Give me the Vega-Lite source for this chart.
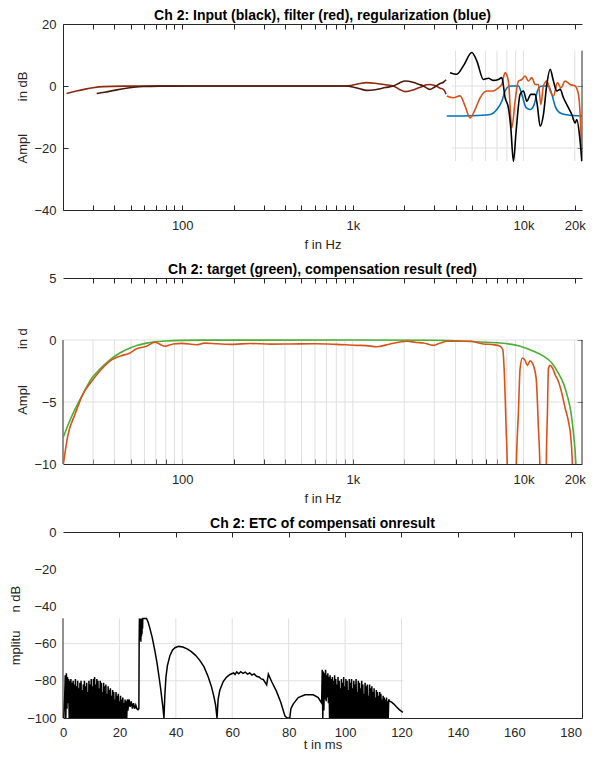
{
  "$schema": "https://vega.github.io/schema/vega-lite/v6.json",
  "padding": {"left": 9, "top": 9, "right": 5, "bottom": 0},
  "spacing": 68,
  "bounds": "flush",
  "config": {
    "view": {"stroke": null},
    "axis": {"labelFont": "Liberation Sans", "labelFontSize": 13, "labelColor": "#262626", "titleFont": "Liberation Sans", "titleFontSize": 13, "titleFontWeight": "normal", "titleColor": "#262626", "domainColor": "#262626", "tickColor": "#262626", "domainWidth": 1, "tickWidth": 1, "grid": false, "labelFlush": false, "labelOverlap": false, "tickSize": -5, "labelPadding": 12},
    "title": {"font": "Liberation Sans", "fontSize": 14, "fontWeight": "bold", "color": "#000000", "offset": -5, "anchor": "middle"}
  },
  "datasets": {
    "seg1": [
      {"x1": 4000, "x2": 4000, "y1": 11.4, "y2": -24.2, "k": "grid"},
      {"x1": 5000, "x2": 5000, "y1": 11.4, "y2": -24.2, "k": "grid"},
      {"x1": 6000, "x2": 6000, "y1": 11.4, "y2": -24.2, "k": "grid"},
      {"x1": 7000, "x2": 7000, "y1": 11.4, "y2": -24.2, "k": "grid"},
      {"x1": 8000, "x2": 8000, "y1": 11.4, "y2": -24.2, "k": "grid"},
      {"x1": 9000, "x2": 9000, "y1": 11.4, "y2": -24.2, "k": "grid"},
      {"x1": 10000, "x2": 10000, "y1": 11.4, "y2": -24.2, "k": "grid"},
      {"x1": 20000, "x2": 20000, "y1": 11.4, "y2": -24.2, "k": "grid"},
      {"x1": 3800, "x2": 22050, "y1": 0, "y2": 0, "k": "grid"},
      {"x1": 3800, "x2": 22050, "y1": -20, "y2": -20, "k": "grid"},
      {"x1": 22050, "x2": 22050, "y1": 11.4, "y2": -24.2, "k": "frame"}
    ],
    "seg2": [
      {"x1": 30, "x2": 30, "y1": 0, "y2": -10, "k": "grid"},
      {"x1": 40, "x2": 40, "y1": 0, "y2": -10, "k": "grid"},
      {"x1": 50, "x2": 50, "y1": 0, "y2": -10, "k": "grid"},
      {"x1": 60, "x2": 60, "y1": 0, "y2": -10, "k": "grid"},
      {"x1": 70, "x2": 70, "y1": 0, "y2": -10, "k": "grid"},
      {"x1": 80, "x2": 80, "y1": 0, "y2": -10, "k": "grid"},
      {"x1": 90, "x2": 90, "y1": 0, "y2": -10, "k": "grid"},
      {"x1": 100, "x2": 100, "y1": 0, "y2": -10, "k": "grid"},
      {"x1": 200, "x2": 200, "y1": 0, "y2": -10, "k": "grid"},
      {"x1": 300, "x2": 300, "y1": 0, "y2": -10, "k": "grid"},
      {"x1": 400, "x2": 400, "y1": 0, "y2": -10, "k": "grid"},
      {"x1": 500, "x2": 500, "y1": 0, "y2": -10, "k": "grid"},
      {"x1": 600, "x2": 600, "y1": 0, "y2": -10, "k": "grid"},
      {"x1": 700, "x2": 700, "y1": 0, "y2": -10, "k": "grid"},
      {"x1": 800, "x2": 800, "y1": 0, "y2": -10, "k": "grid"},
      {"x1": 900, "x2": 900, "y1": 0, "y2": -10, "k": "grid"},
      {"x1": 1000, "x2": 1000, "y1": 0, "y2": -10, "k": "grid"},
      {"x1": 2000, "x2": 2000, "y1": 0, "y2": -10, "k": "grid"},
      {"x1": 3000, "x2": 3000, "y1": 0, "y2": -10, "k": "grid"},
      {"x1": 4000, "x2": 4000, "y1": 0, "y2": -10, "k": "grid"},
      {"x1": 5000, "x2": 5000, "y1": 0, "y2": -10, "k": "grid"},
      {"x1": 6000, "x2": 6000, "y1": 0, "y2": -10, "k": "grid"},
      {"x1": 7000, "x2": 7000, "y1": 0, "y2": -10, "k": "grid"},
      {"x1": 8000, "x2": 8000, "y1": 0, "y2": -10, "k": "grid"},
      {"x1": 9000, "x2": 9000, "y1": 0, "y2": -10, "k": "grid"},
      {"x1": 10000, "x2": 10000, "y1": 0, "y2": -10, "k": "grid"},
      {"x1": 20000, "x2": 20000, "y1": 0, "y2": -10, "k": "grid"},
      {"x1": 20, "x2": 22050, "y1": 0, "y2": 0, "k": "grid"},
      {"x1": 20, "x2": 22050, "y1": -5, "y2": -5, "k": "grid"},
      {"x1": 20, "x2": 20, "y1": 0, "y2": -10, "k": "frame"},
      {"x1": 22050, "x2": 22050, "y1": 0, "y2": -10, "k": "frame"}
    ],
    "seg3": [
      {"x1": 20, "x2": 20, "y1": -46.4, "y2": -100, "k": "grid"},
      {"x1": 40, "x2": 40, "y1": -46.4, "y2": -100, "k": "grid"},
      {"x1": 60, "x2": 60, "y1": -46.4, "y2": -100, "k": "grid"},
      {"x1": 80, "x2": 80, "y1": -46.4, "y2": -100, "k": "grid"},
      {"x1": 100, "x2": 100, "y1": -46.4, "y2": -100, "k": "grid"},
      {"x1": 120, "x2": 120, "y1": -46.4, "y2": -100, "k": "grid"},
      {"x1": 0, "x2": 120.6, "y1": -60, "y2": -60, "k": "grid"},
      {"x1": 0, "x2": 120.6, "y1": -80, "y2": -80, "k": "grid"},
      {"x1": 0, "x2": 0, "y1": -46.4, "y2": -100, "k": "frame"}
    ],
    "p1": [
      {"s": "red_lo", "f": 21, "v": -2.4}, {"s": "red_lo", "f": 24, "v": -1.6}, {"s": "red_lo", "f": 27, "v": -1.0}, {"s": "red_lo", "f": 30, "v": -0.55}, {"s": "red_lo", "f": 34.4, "v": -0.2}, {"s": "red_lo", "f": 45, "v": -0.05}, {"s": "red_lo", "f": 80, "v": 0}, {"s": "red_lo", "f": 400, "v": 0}, {"s": "red_lo", "f": 900, "v": 0}, {"s": "red_lo", "f": 1000, "v": 0.3}, {"s": "red_lo", "f": 1100, "v": 0.8}, {"s": "red_lo", "f": 1206, "v": 1.1}, {"s": "red_lo", "f": 1350, "v": 0.9}, {"s": "red_lo", "f": 1550, "v": 0.4}, {"s": "red_lo", "f": 1728, "v": 0}, {"s": "red_lo", "f": 1880, "v": -1.1}, {"s": "red_lo", "f": 2025, "v": -1.8}, {"s": "red_lo", "f": 2250, "v": -1.3}, {"s": "red_lo", "f": 2450, "v": -0.5}, {"s": "red_lo", "f": 2591, "v": 0}, {"s": "red_lo", "f": 2700, "v": 0.4}, {"s": "red_lo", "f": 2836, "v": 0.5}, {"s": "red_lo", "f": 2960, "v": 0.3}, {"s": "red_lo", "f": 3076, "v": 0}, {"s": "red_lo", "f": 3250, "v": -0.7}, {"s": "red_lo", "f": 3395, "v": -1.1}, {"s": "red_lo", "f": 3520, "v": -2.6},
      {"s": "black_lo", "f": 31.5, "v": -2.4}, {"s": "black_lo", "f": 35, "v": -2.0}, {"s": "black_lo", "f": 40, "v": -1.4}, {"s": "black_lo", "f": 46, "v": -0.8}, {"s": "black_lo", "f": 52, "v": -0.4}, {"s": "black_lo", "f": 59, "v": -0.15}, {"s": "black_lo", "f": 75, "v": -0.05}, {"s": "black_lo", "f": 120, "v": 0}, {"s": "black_lo", "f": 400, "v": 0}, {"s": "black_lo", "f": 900, "v": 0}, {"s": "black_lo", "f": 1000, "v": -0.3}, {"s": "black_lo", "f": 1100, "v": -0.9}, {"s": "black_lo", "f": 1206, "v": -1.4}, {"s": "black_lo", "f": 1350, "v": -1.2}, {"s": "black_lo", "f": 1550, "v": -0.5}, {"s": "black_lo", "f": 1728, "v": 0}, {"s": "black_lo", "f": 1880, "v": 1.0}, {"s": "black_lo", "f": 2025, "v": 1.6}, {"s": "black_lo", "f": 2250, "v": 1.2}, {"s": "black_lo", "f": 2450, "v": 0.5}, {"s": "black_lo", "f": 2591, "v": 0}, {"s": "black_lo", "f": 2700, "v": -0.6}, {"s": "black_lo", "f": 2836, "v": -1.1}, {"s": "black_lo", "f": 2960, "v": -0.6}, {"s": "black_lo", "f": 3076, "v": 0}, {"s": "black_lo", "f": 3250, "v": 0.8}, {"s": "black_lo", "f": 3395, "v": 1.2}, {"s": "black_lo", "f": 3520, "v": 2.0},
      {"s": "blue", "f": 3554, "v": -9.7}, {"s": "blue", "f": 5000, "v": -9.6}, {"s": "blue", "f": 6379, "v": -9.2}, {"s": "blue", "f": 6982, "v": -7.6}, {"s": "blue", "f": 7470, "v": -4.9}, {"s": "blue", "f": 7812, "v": -1.6}, {"s": "blue", "f": 8166, "v": -0.2}, {"s": "blue", "f": 8500, "v": 0}, {"s": "blue", "f": 9349, "v": 0}, {"s": "blue", "f": 9786, "v": -2.7}, {"s": "blue", "f": 10370, "v": -7}, {"s": "blue", "f": 10947, "v": -7.6}, {"s": "blue", "f": 11556, "v": -6}, {"s": "blue", "f": 12082, "v": -1.6}, {"s": "blue", "f": 12530, "v": -0.2}, {"s": "blue", "f": 13000, "v": 0}, {"s": "blue", "f": 14016, "v": 0}, {"s": "blue", "f": 14676, "v": -2.7}, {"s": "blue", "f": 15345, "v": -6.5}, {"s": "blue", "f": 16420, "v": -8.7}, {"s": "blue", "f": 17970, "v": -9.3}, {"s": "blue", "f": 22005, "v": -9.7},
      {"s": "red", "f": 3554, "v": -3.2}, {"s": "red", "f": 3886, "v": -3.8}, {"s": "red", "f": 4255, "v": -3.2}, {"s": "red", "f": 4552, "v": -6.5}, {"s": "red", "f": 4869, "v": -10.3}, {"s": "red", "f": 5209, "v": -7.6}, {"s": "red", "f": 5572, "v": -3.8}, {"s": "red", "f": 6101, "v": -1.6}, {"s": "red", "f": 6668, "v": -1.6}, {"s": "red", "f": 7135, "v": -0.6}, {"s": "red", "f": 7470, "v": 0.5}, {"s": "red", "f": 7812, "v": 4.3}, {"s": "red", "f": 8166, "v": 1.6}, {"s": "red", "f": 8551, "v": -13.5}, {"s": "red", "f": 8940, "v": -4.9}, {"s": "red", "f": 9349, "v": 1.6}, {"s": "red", "f": 9786, "v": 2.1}, {"s": "red", "f": 10233, "v": 3.2}, {"s": "red", "f": 10698, "v": 1.6}, {"s": "red", "f": 11203, "v": 2.7}, {"s": "red", "f": 11712, "v": 0.5}, {"s": "red", "f": 12246, "v": 0.5}, {"s": "red", "f": 12650, "v": -6}, {"s": "red", "f": 13100, "v": 0}, {"s": "red", "f": 13717, "v": 1.6}, {"s": "red", "f": 14342, "v": -1.6}, {"s": "red", "f": 14997, "v": -3.2}, {"s": "red", "f": 15829, "v": 1.1}, {"s": "red", "f": 16576, "v": -0.6}, {"s": "red", "f": 17565, "v": 1.6}, {"s": "red", "f": 18790, "v": 0.5}, {"s": "red", "f": 20100, "v": 0}, {"s": "red", "f": 21020, "v": -2.7}, {"s": "red", "f": 21508, "v": -9.2}, {"s": "red", "f": 22005, "v": -23},
      {"s": "black", "f": 3716, "v": 4.3}, {"s": "black", "f": 4069, "v": 3.8}, {"s": "black", "f": 4448, "v": 6.5}, {"s": "black", "f": 4983, "v": 10.8}, {"s": "black", "f": 5331, "v": 8.1}, {"s": "black", "f": 5827, "v": 2.1}, {"s": "black", "f": 6234, "v": 2.5}, {"s": "black", "f": 6668, "v": 1.8}, {"s": "black", "f": 7135, "v": 2.1}, {"s": "black", "f": 7470, "v": 2.7}, {"s": "black", "f": 7812, "v": -3.8}, {"s": "black", "f": 8166, "v": -7}, {"s": "black", "f": 8436, "v": -13.5}, {"s": "black", "f": 8737, "v": -24.3}, {"s": "black", "f": 9062, "v": -14.6}, {"s": "black", "f": 9563, "v": -2.7}, {"s": "black", "f": 10000, "v": -1.6}, {"s": "black", "f": 10469, "v": -4.9}, {"s": "black", "f": 11052, "v": -2.7}, {"s": "black", "f": 11712, "v": -2.7}, {"s": "black", "f": 12082, "v": -6.5}, {"s": "black", "f": 12530, "v": -13}, {"s": "black", "f": 13100, "v": -9.2}, {"s": "black", "f": 13717, "v": 0.5}, {"s": "black", "f": 14342, "v": 5.4}, {"s": "black", "f": 14997, "v": 1.6}, {"s": "black", "f": 15702, "v": -1.6}, {"s": "black", "f": 16420, "v": -1.1}, {"s": "black", "f": 17165, "v": -3.8}, {"s": "black", "f": 18364, "v": -7}, {"s": "black", "f": 19227, "v": -9.2}, {"s": "black", "f": 20100, "v": -11.9}, {"s": "black", "f": 20570, "v": -10.8}, {"s": "black", "f": 21303, "v": -15.7}, {"s": "black", "f": 22005, "v": -24.3}
    ],
    "p2": [
      {"s": "green", "f": 20, "v": -7.9}, {"s": "green", "f": 21.4, "v": -6.85}, {"s": "green", "f": 23.5, "v": -5.6}, {"s": "green", "f": 26.3, "v": -4.3}, {"s": "green", "f": 29.4, "v": -3.1}, {"s": "green", "f": 32.9, "v": -2.35}, {"s": "green", "f": 37.7, "v": -1.6}, {"s": "green", "f": 43.1, "v": -1.05}, {"s": "green", "f": 49.4, "v": -0.65}, {"s": "green", "f": 54, "v": -0.45}, {"s": "green", "f": 61.8, "v": -0.25}, {"s": "green", "f": 69.2, "v": -0.15}, {"s": "green", "f": 79.2, "v": -0.08}, {"s": "green", "f": 99.2, "v": -0.03}, {"s": "green", "f": 150, "v": -0.01}, {"s": "green", "f": 1000, "v": 0}, {"s": "green", "f": 3000, "v": -0.02}, {"s": "green", "f": 5572, "v": -0.16}, {"s": "green", "f": 7300, "v": -0.24}, {"s": "green", "f": 9571, "v": -0.5}, {"s": "green", "f": 11450, "v": -0.9}, {"s": "green", "f": 13100, "v": -1.3}, {"s": "green", "f": 14676, "v": -1.86}, {"s": "green", "f": 16046, "v": -2.7}, {"s": "green", "f": 17165, "v": -3.5}, {"s": "green", "f": 18119, "v": -4.55}, {"s": "green", "f": 18970, "v": -5.8}, {"s": "green", "f": 19650, "v": -7.5}, {"s": "green", "f": 20290, "v": -9.9}, {"s": "green", "f": 20400, "v": -10.6},
      {"s": "red", "f": 20, "v": -10.2}, {"s": "red", "f": 21.4, "v": -7.65}, {"s": "red", "f": 23.5, "v": -6.0}, {"s": "red", "f": 26.3, "v": -4.3}, {"s": "red", "f": 29.4, "v": -3.35}, {"s": "red", "f": 32.9, "v": -2.5}, {"s": "red", "f": 37.7, "v": -1.7}, {"s": "red", "f": 43.1, "v": -1.3}, {"s": "red", "f": 49.4, "v": -1.05}, {"s": "red", "f": 54, "v": -0.7}, {"s": "red", "f": 61.8, "v": -0.5}, {"s": "red", "f": 69.2, "v": -0.18}, {"s": "red", "f": 79.2, "v": -0.5}, {"s": "red", "f": 88.6, "v": -0.32}, {"s": "red", "f": 99.2, "v": -0.27}, {"s": "red", "f": 121.5, "v": -0.38}, {"s": "red", "f": 135, "v": -0.25}, {"s": "red", "f": 160, "v": -0.3}, {"s": "red", "f": 200, "v": -0.35}, {"s": "red", "f": 250, "v": -0.28}, {"s": "red", "f": 330, "v": -0.33}, {"s": "red", "f": 429, "v": -0.32}, {"s": "red", "f": 600, "v": -0.3}, {"s": "red", "f": 800, "v": -0.35}, {"s": "red", "f": 1054, "v": -0.43}, {"s": "red", "f": 1200, "v": -0.45}, {"s": "red", "f": 1381, "v": -0.54}, {"s": "red", "f": 1653, "v": -0.32}, {"s": "red", "f": 2071, "v": -0.1}, {"s": "red", "f": 2350, "v": -0.2}, {"s": "red", "f": 2591, "v": -0.24}, {"s": "red", "f": 2966, "v": -0.43}, {"s": "red", "f": 3250, "v": -0.25}, {"s": "red", "f": 3554, "v": -0.1}, {"s": "red", "f": 4869, "v": -0.1}, {"s": "red", "f": 5827, "v": -0.32}, {"s": "red", "f": 6668, "v": -0.38}, {"s": "red", "f": 7300, "v": -0.5}, {"s": "red", "f": 7572, "v": -0.78}, {"s": "red", "f": 7706, "v": -2.3}, {"s": "red", "f": 7917, "v": -7.1}, {"s": "red", "f": 8057, "v": -11}, {"s": "red", "f": 8300, "v": -40}, {"s": "red", "f": 8800, "v": -40}, {"s": "red", "f": 9062, "v": -11}, {"s": "red", "f": 9349, "v": -5.8}, {"s": "red", "f": 9563, "v": -2.3}, {"s": "red", "f": 9865, "v": -1.45}, {"s": "red", "f": 10190, "v": -1.6}, {"s": "red", "f": 10555, "v": -2.05}, {"s": "red", "f": 10947, "v": -1.67}, {"s": "red", "f": 11354, "v": -1.94}, {"s": "red", "f": 11872, "v": -3.07}, {"s": "red", "f": 12246, "v": -7.1}, {"s": "red", "f": 12530, "v": -11}, {"s": "red", "f": 12800, "v": -40}, {"s": "red", "f": 13300, "v": -40}, {"s": "red", "f": 13590, "v": -11}, {"s": "red", "f": 13830, "v": -5.8}, {"s": "red", "f": 14016, "v": -2.3}, {"s": "red", "f": 14342, "v": -2.05}, {"s": "red", "f": 14874, "v": -2.3}, {"s": "red", "f": 15345, "v": -2.8}, {"s": "red", "f": 16046, "v": -3.34}, {"s": "red", "f": 16799, "v": -4.3}, {"s": "red", "f": 17565, "v": -5.5}, {"s": "red", "f": 18364, "v": -6.57}, {"s": "red", "f": 18970, "v": -7.9}, {"s": "red", "f": 19386, "v": -10.3}, {"s": "red", "f": 19600, "v": -14}
    ],
    "p3": [
      {"t": 0.0, "v": -100}, {"t": 0.3, "v": -100}, {"t": 0.6, "v": -88}, {"t": 0.8, "v": -77}, {"t": 1.0, "v": -100}, {"t": 1.2, "v": -76}, {"t": 1.4, "v": -95}, {"t": 1.6, "v": -78}, {"t": 1.8, "v": -92}, {"t": 2.0, "v": -79}, {"t": 2.2, "v": -100}, {"t": 2.4, "v": -80}, {"t": 2.6, "v": -100}, {"t": 2.8, "v": -79}, {"t": 3.0, "v": -100}, {"t": 3.2, "v": -81}, {"t": 3.4, "v": -100}, {"t": 3.6, "v": -80}, {"t": 3.8, "v": -100}, {"t": 4.0, "v": -82}, {"t": 4.2, "v": -100}, {"t": 4.4, "v": -79}, {"t": 4.6, "v": -100}, {"t": 4.8, "v": -83}, {"t": 5.0, "v": -100}, {"t": 5.2, "v": -80}, {"t": 5.4, "v": -100}, {"t": 5.6, "v": -84}, {"t": 5.8, "v": -100}, {"t": 6.0, "v": -81}, {"t": 6.2, "v": -100}, {"t": 6.4, "v": -80}, {"t": 6.6, "v": -100}, {"t": 6.8, "v": -85}, {"t": 7.0, "v": -100}, {"t": 7.2, "v": -82}, {"t": 7.4, "v": -100}, {"t": 7.6, "v": -80}, {"t": 7.8, "v": -100}, {"t": 8.0, "v": -83}, {"t": 8.2, "v": -100}, {"t": 8.4, "v": -81}, {"t": 8.6, "v": -100}, {"t": 8.8, "v": -86}, {"t": 9.0, "v": -100}, {"t": 9.2, "v": -80}, {"t": 9.4, "v": -100}, {"t": 9.6, "v": -82}, {"t": 9.8, "v": -100}, {"t": 10.0, "v": -79}, {"t": 10.2, "v": -100}, {"t": 10.4, "v": -83}, {"t": 10.6, "v": -100}, {"t": 10.8, "v": -79}, {"t": 11.0, "v": -100}, {"t": 11.2, "v": -78}, {"t": 11.4, "v": -100}, {"t": 11.6, "v": -82}, {"t": 11.8, "v": -100}, {"t": 12.0, "v": -79}, {"t": 12.2, "v": -100}, {"t": 12.4, "v": -80}, {"t": 12.6, "v": -100}, {"t": 12.8, "v": -84}, {"t": 13.0, "v": -100}, {"t": 13.2, "v": -80}, {"t": 13.4, "v": -100}, {"t": 13.6, "v": -81}, {"t": 13.8, "v": -100}, {"t": 14.0, "v": -86}, {"t": 14.2, "v": -100}, {"t": 14.4, "v": -81}, {"t": 14.6, "v": -100}, {"t": 14.8, "v": -83}, {"t": 15.0, "v": -100}, {"t": 15.2, "v": -82}, {"t": 15.4, "v": -100}, {"t": 15.6, "v": -87}, {"t": 15.8, "v": -100}, {"t": 16.0, "v": -83}, {"t": 16.2, "v": -100}, {"t": 16.4, "v": -85}, {"t": 16.6, "v": -100}, {"t": 16.8, "v": -84}, {"t": 17.0, "v": -100}, {"t": 17.2, "v": -88}, {"t": 17.4, "v": -100}, {"t": 17.6, "v": -85}, {"t": 17.8, "v": -100}, {"t": 18.0, "v": -86}, {"t": 18.2, "v": -100}, {"t": 18.4, "v": -90}, {"t": 18.6, "v": -100}, {"t": 18.8, "v": -86}, {"t": 19.0, "v": -100}, {"t": 19.2, "v": -88}, {"t": 19.4, "v": -100}, {"t": 19.6, "v": -87}, {"t": 19.8, "v": -100}, {"t": 20.0, "v": -91}, {"t": 20.2, "v": -100}, {"t": 20.4, "v": -88}, {"t": 20.6, "v": -100}, {"t": 20.8, "v": -90}, {"t": 21.0, "v": -100}, {"t": 21.2, "v": -89}, {"t": 21.4, "v": -100}, {"t": 21.6, "v": -92}, {"t": 21.8, "v": -100}, {"t": 22.0, "v": -90}, {"t": 22.2, "v": -100}, {"t": 22.4, "v": -91}, {"t": 22.6, "v": -100}, {"t": 22.8, "v": -90}, {"t": 23.0, "v": -96}, {"t": 23.4, "v": -90}, {"t": 23.8, "v": -94}, {"t": 24.2, "v": -91}, {"t": 24.6, "v": -95}, {"t": 25.0, "v": -92}, {"t": 25.4, "v": -95}, {"t": 25.8, "v": -93}, {"t": 26.2, "v": -95}, {"t": 26.6, "v": -95.5}, {"t": 26.9, "v": -95},
      {"t": 27.0, "v": -58}, {"t": 27.1, "v": -46.5}, {"t": 27.2, "v": -58}, {"t": 27.3, "v": -46.5}, {"t": 27.4, "v": -57}, {"t": 27.5, "v": -46.5}, {"t": 27.6, "v": -59}, {"t": 27.7, "v": -46.5}, {"t": 27.8, "v": -56}, {"t": 27.9, "v": -46.5}, {"t": 28.0, "v": -55}, {"t": 28.1, "v": -46.5}, {"t": 28.2, "v": -52}, {"t": 28.3, "v": -46.5}, {"t": 29.6, "v": -46.5}, {"t": 30.2, "v": -48.5}, {"t": 30.8, "v": -51.8}, {"t": 31.6, "v": -56.5}, {"t": 32.6, "v": -64}, {"t": 33.4, "v": -71}, {"t": 34.1, "v": -78.5}, {"t": 34.6, "v": -84}, {"t": 35.0, "v": -89}, {"t": 35.4, "v": -94}, {"t": 35.8, "v": -100},
      {"t": 36.1, "v": -88}, {"t": 36.5, "v": -78}, {"t": 37.0, "v": -72}, {"t": 37.9, "v": -66.5}, {"t": 38.8, "v": -63.5}, {"t": 39.7, "v": -62.2}, {"t": 41.0, "v": -61.5}, {"t": 42.5, "v": -61.8}, {"t": 44.0, "v": -62.8}, {"t": 45.5, "v": -64.3}, {"t": 47.0, "v": -66.3}, {"t": 48.5, "v": -69}, {"t": 50.0, "v": -72.5}, {"t": 51.4, "v": -77.5}, {"t": 52.6, "v": -83}, {"t": 53.5, "v": -88.5}, {"t": 54.1, "v": -93}, {"t": 54.6, "v": -100},
      {"t": 55.0, "v": -90}, {"t": 55.6, "v": -85}, {"t": 56.8, "v": -80.4}, {"t": 58.0, "v": -78}, {"t": 59.2, "v": -76.6}, {"t": 60.5, "v": -75.8}, {"t": 61.0, "v": -76.6}, {"t": 61.6, "v": -75.2}, {"t": 62.3, "v": -76.2}, {"t": 63.0, "v": -75.1}, {"t": 63.8, "v": -76.0}, {"t": 64.6, "v": -75.3}, {"t": 65.4, "v": -76.4}, {"t": 66.2, "v": -75.8}, {"t": 67.0, "v": -76.9}, {"t": 67.8, "v": -76.3}, {"t": 68.6, "v": -77.6}, {"t": 69.5, "v": -77.9}, {"t": 70.3, "v": -79.0}, {"t": 71.0, "v": -79.3}, {"t": 71.7, "v": -81.0}, {"t": 72.2, "v": -82.2}, {"t": 72.8, "v": -76.4}, {"t": 74.0, "v": -80.5}, {"t": 75.7, "v": -85.7}, {"t": 77.2, "v": -91.5}, {"t": 78.7, "v": -99}, {"t": 79.5, "v": -100}, {"t": 80.4, "v": -100},
      {"t": 80.8, "v": -95}, {"t": 81.6, "v": -92.5}, {"t": 83.4, "v": -89}, {"t": 85.8, "v": -87.5}, {"t": 88.7, "v": -87.5}, {"t": 90.5, "v": -89}, {"t": 91.7, "v": -92},
      {"t": 91.9, "v": -74}, {"t": 92.1, "v": -100}, {"t": 92.3, "v": -75}, {"t": 92.5, "v": -96}, {"t": 92.7, "v": -76}, {"t": 92.9, "v": -90}, {"t": 93.1, "v": -74}, {"t": 93.3, "v": -91}, {"t": 93.5, "v": -77}, {"t": 93.7, "v": -89}, {"t": 93.9, "v": -76}, {"t": 94.1, "v": -92}, {"t": 94.3, "v": -78}, {"t": 94.5, "v": -100}, {"t": 94.7, "v": -77}, {"t": 94.9, "v": -100}, {"t": 95.1, "v": -79}, {"t": 95.3, "v": -100}, {"t": 95.5, "v": -78}, {"t": 95.7, "v": -100}, {"t": 95.9, "v": -80}, {"t": 96.1, "v": -100}, {"t": 96.3, "v": -77}, {"t": 96.5, "v": -100}, {"t": 96.7, "v": -79}, {"t": 96.9, "v": -100}, {"t": 97.1, "v": -82}, {"t": 97.3, "v": -100}, {"t": 97.5, "v": -78}, {"t": 97.7, "v": -100}, {"t": 97.9, "v": -80}, {"t": 98.1, "v": -100}, {"t": 98.3, "v": -84}, {"t": 98.5, "v": -100}, {"t": 98.7, "v": -79}, {"t": 98.9, "v": -100}, {"t": 99.1, "v": -81}, {"t": 99.3, "v": -100}, {"t": 99.5, "v": -78}, {"t": 99.7, "v": -100}, {"t": 99.9, "v": -83}, {"t": 100.1, "v": -100}, {"t": 100.3, "v": -79}, {"t": 100.5, "v": -100}, {"t": 100.7, "v": -80}, {"t": 100.9, "v": -100}, {"t": 101.1, "v": -85}, {"t": 101.3, "v": -100}, {"t": 101.5, "v": -79}, {"t": 101.7, "v": -100}, {"t": 101.9, "v": -81}, {"t": 102.1, "v": -100}, {"t": 102.3, "v": -79}, {"t": 102.5, "v": -100}, {"t": 102.7, "v": -84}, {"t": 102.9, "v": -100}, {"t": 103.1, "v": -80}, {"t": 103.3, "v": -100}, {"t": 103.5, "v": -82}, {"t": 103.7, "v": -100}, {"t": 103.9, "v": -79}, {"t": 104.1, "v": -100}, {"t": 104.3, "v": -86}, {"t": 104.5, "v": -100}, {"t": 104.7, "v": -80}, {"t": 104.9, "v": -100}, {"t": 105.1, "v": -81}, {"t": 105.3, "v": -100}, {"t": 105.5, "v": -84}, {"t": 105.7, "v": -100}, {"t": 105.9, "v": -80}, {"t": 106.1, "v": -100}, {"t": 106.3, "v": -82}, {"t": 106.5, "v": -100}, {"t": 106.7, "v": -87}, {"t": 106.9, "v": -100}, {"t": 107.1, "v": -81}, {"t": 107.3, "v": -100}, {"t": 107.5, "v": -83}, {"t": 107.7, "v": -100}, {"t": 107.9, "v": -82}, {"t": 108.1, "v": -100}, {"t": 108.3, "v": -88}, {"t": 108.5, "v": -100}, {"t": 108.7, "v": -82}, {"t": 108.9, "v": -100}, {"t": 109.1, "v": -84}, {"t": 109.3, "v": -100}, {"t": 109.5, "v": -83}, {"t": 109.7, "v": -100}, {"t": 109.9, "v": -86}, {"t": 110.1, "v": -100}, {"t": 110.3, "v": -84}, {"t": 110.5, "v": -100}, {"t": 110.7, "v": -89}, {"t": 110.9, "v": -100}, {"t": 111.1, "v": -85}, {"t": 111.3, "v": -100}, {"t": 111.5, "v": -86}, {"t": 111.7, "v": -100}, {"t": 111.9, "v": -88}, {"t": 112.1, "v": -100}, {"t": 112.3, "v": -86}, {"t": 112.5, "v": -100}, {"t": 112.7, "v": -87}, {"t": 112.9, "v": -100}, {"t": 113.1, "v": -90}, {"t": 113.3, "v": -100}, {"t": 113.5, "v": -88}, {"t": 113.7, "v": -100}, {"t": 113.9, "v": -89}, {"t": 114.1, "v": -100}, {"t": 114.3, "v": -90}, {"t": 114.5, "v": -100}, {"t": 114.7, "v": -89}, {"t": 114.9, "v": -100}, {"t": 115.1, "v": -91}, {"t": 115.3, "v": -100}, {"t": 115.5, "v": -90}, {"t": 115.8, "v": -91}, {"t": 116.5, "v": -91.5}, {"t": 117.3, "v": -92.5}, {"t": 118.2, "v": -94}, {"t": 119.2, "v": -95.5}, {"t": 120.5, "v": -97}
    ]
  },
  "vconcat": [
    {
      "width": 519, "height": 186,
      "title": {"text": "Ch 2: Input (black), filter (red), regularization (blue)"},
      "resolve": {"axis": {"x": "independent", "y": "independent"}, "scale": {"color": "independent"}},
      "layer": [
        {
          "data": {"name": "seg1"},
          "mark": {"type": "rule", "strokeWidth": 1},
          "encoding": {
            "x": {"field": "x1", "type": "quantitative", "scale": {"type": "log", "domain": [20, 22050], "nice": false}, "axis": {"orient": "bottom", "title": "f in Hz", "titlePadding": 6, "labelPadding": 14, "values": [30, 40, 50, 60, 70, 80, 90, 100, 200, 300, 400, 500, 600, 700, 800, 900, 1000, 2000, 3000, 4000, 5000, 6000, 7000, 8000, 9000, 10000, 20000], "labelExpr": "datum.value == 100 ? '100' : datum.value == 1000 ? '1k' : datum.value == 10000 ? '10k' : datum.value == 20000 ? '20k' : ''"}},
            "x2": {"field": "x2"},
            "y": {"field": "y1", "type": "quantitative", "scale": {"domain": [-40, 20], "nice": false, "zero": false}, "axis": {"orient": "left", "values": [20, 0, -20, -40], "title": "Ampl\u00a0\u00a0\u00a0\u00a0\u00a0\u00a0\u00a0\u00a0\u00a0in dB\u00a0\u00a0\u00a0"}},
            "y2": {"field": "y2"},
            "color": {"field": "k", "type": "nominal", "scale": {"domain": ["grid", "frame"], "range": ["#E0E0E0", "#262626"]}, "legend": null}
          }
        },
        {
          "data": {"name": "p1"},
          "mark": {"type": "line", "strokeWidth": 1.6, "interpolate": "monotone", "clip": true},
          "encoding": {
            "x": {"field": "f", "type": "quantitative", "scale": {"type": "log", "domain": [20, 22050], "nice": false}, "axis": {"orient": "top", "labels": false, "title": null, "values": [30, 40, 50, 60, 70, 80, 90, 100, 200, 300, 400, 500, 600, 700, 800, 900, 1000, 2000, 3000, 4000, 5000, 6000, 7000, 8000, 9000, 10000, 20000]}},
            "y": {"field": "v", "type": "quantitative", "scale": {"domain": [-40, 20], "nice": false, "zero": false}, "axis": {"orient": "right", "labels": false, "domain": false, "title": null, "values": [0, -20]}},
            "color": {"field": "s", "type": "nominal", "scale": {"domain": ["red_lo", "black_lo", "blue", "red", "black"], "range": ["#8C2A12", "#4A1A0C", "#0072BD", "#D95319", "#000000"]}, "legend": null}
          }
        }
      ]
    },
    {
      "width": 519, "height": 186,
      "title": {"text": "Ch 2: target (green), compensation result (red)"},
      "resolve": {"axis": {"x": "independent", "y": "independent"}, "scale": {"color": "independent"}},
      "layer": [
        {
          "data": {"name": "seg2"},
          "mark": {"type": "rule", "strokeWidth": 1},
          "encoding": {
            "x": {"field": "x1", "type": "quantitative", "scale": {"type": "log", "domain": [20, 22050], "nice": false}, "axis": {"orient": "bottom", "title": "f in Hz", "titlePadding": 6, "labelPadding": 14, "values": [30, 40, 50, 60, 70, 80, 90, 100, 200, 300, 400, 500, 600, 700, 800, 900, 1000, 2000, 3000, 4000, 5000, 6000, 7000, 8000, 9000, 10000, 20000], "labelExpr": "datum.value == 100 ? '100' : datum.value == 1000 ? '1k' : datum.value == 10000 ? '10k' : datum.value == 20000 ? '20k' : ''"}},
            "x2": {"field": "x2"},
            "y": {"field": "y1", "type": "quantitative", "scale": {"domain": [-10, 5], "nice": false, "zero": false}, "axis": {"orient": "left", "values": [5, 0, -5, -10], "domain": false, "ticks": false, "labelPadding": 7, "title": "Ampl\u00a0\u00a0\u00a0\u00a0\u00a0\u00a0\u00a0\u00a0\u00a0\u00a0in d\u00a0\u00a0\u00a0\u00a0"}},
            "y2": {"field": "y2"},
            "color": {"field": "k", "type": "nominal", "scale": {"domain": ["grid", "frame"], "range": ["#E0E0E0", "#262626"]}, "legend": null}
          }
        },
        {
          "data": {"name": "p2"},
          "mark": {"type": "line", "strokeWidth": 1.6, "interpolate": "monotone", "clip": true},
          "encoding": {
            "x": {"field": "f", "type": "quantitative", "scale": {"type": "log", "domain": [20, 22050], "nice": false}, "axis": {"orient": "top", "labels": false, "title": null, "values": [30, 40, 50, 60, 70, 80, 90, 100, 200, 300, 400, 500, 600, 700, 800, 900, 1000, 2000, 3000, 4000, 5000, 6000, 7000, 8000, 9000, 10000, 20000]}},
            "y": {"field": "v", "type": "quantitative", "scale": {"domain": [-10, 5], "nice": false, "zero": false}, "axis": {"orient": "right", "labels": false, "domain": false, "title": null, "values": [0, -5]}},
            "color": {"field": "s", "type": "nominal", "scale": {"domain": ["green", "red"], "range": ["#4BAE35", "#D95319"]}, "legend": null}
          }
        }
      ]
    },
    {
      "width": 519, "height": 186,
      "title": {"text": "Ch 2: ETC of compensati onresult"},
      "resolve": {"axis": {"x": "independent", "y": "independent"}, "scale": {"color": "independent"}},
      "layer": [
        {
          "data": {"name": "seg3"},
          "mark": {"type": "rule", "strokeWidth": 1},
          "encoding": {
            "x": {"field": "x1", "type": "quantitative", "scale": {"domain": [0, 184], "nice": false, "zero": false}, "axis": {"orient": "bottom", "title": "t in ms", "titlePadding": -1, "values": [0, 20, 40, 60, 80, 100, 120, 140, 160, 180], "ticks": false, "labelPadding": 8}},
            "x2": {"field": "x2"},
            "y": {"field": "y1", "type": "quantitative", "scale": {"domain": [-100, 0], "nice": false, "zero": false}, "axis": {"orient": "left", "values": [0, -20, -40, -60, -80, -100], "domain": false, "ticks": false, "labelPadding": 7, "title": "\u00a0mplitu\u00a0\u00a0\u00a0\u00a0\u00a0n dB"}},
            "y2": {"field": "y2"},
            "color": {"field": "k", "type": "nominal", "scale": {"domain": ["grid", "frame"], "range": ["#E0E0E0", "#262626"]}, "legend": null}
          }
        },
        {
          "data": {"name": "p3"},
          "mark": {"type": "line", "strokeWidth": 1.5, "color": "#000000", "clip": true},
          "encoding": {
            "x": {"field": "t", "type": "quantitative", "scale": {"domain": [0, 184], "nice": false, "zero": false}, "axis": {"orient": "top", "labels": false, "title": null, "values": [20, 40, 60, 80, 100, 120, 140, 160, 180]}},
            "y": {"field": "v", "type": "quantitative", "scale": {"domain": [-100, 0], "nice": false, "zero": false}, "axis": {"orient": "right", "labels": false, "ticks": false, "title": null}}
          }
        }
      ]
    }
  ]
}
